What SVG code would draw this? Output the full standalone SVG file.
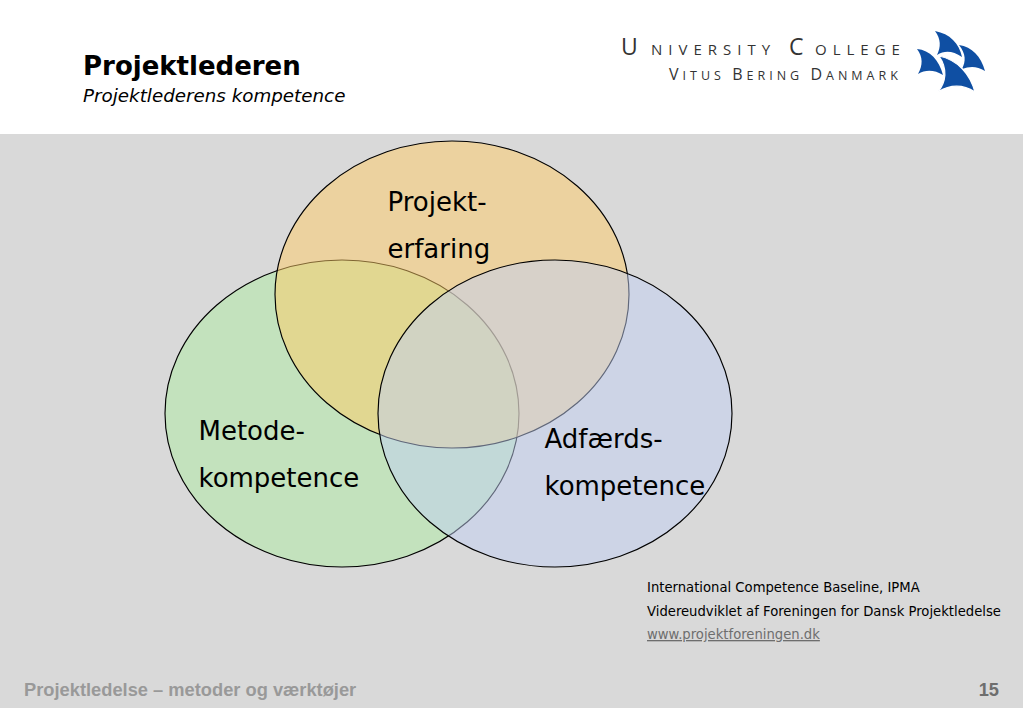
<svg xmlns="http://www.w3.org/2000/svg" width="1023" height="708" viewBox="0 0 1023 708">
<style>
.d{font-family:"DejaVu Sans",Verdana,sans-serif;fill:#000}
.big{font-size:26px}
.small{font-size:13.2px}
.foot{font-family:"Liberation Sans",Arial,sans-serif;font-weight:bold;font-size:18.3px;fill:#999}
.logo{font-family:"Open Sans","Liberation Sans",sans-serif;font-weight:400;fill:#333}
.v{stroke:#000;stroke-width:1.15;fill-opacity:.5}
.sail{fill:#0f4fa3}
</style>
<rect width="1023" height="708" fill="#d9d9d9"/>
<rect id="header" width="1023" height="134" fill="#fff"/>
<text class="d" x="83" y="75" font-size="26" font-weight="bold">Projektlederen</text>
<text class="d" x="83" y="102" font-size="18.3" font-style="italic">Projektlederens kompetence</text>
<g id="logo">
<text class="logo" x="621" y="55" font-size="15" letter-spacing="6"><tspan font-size="23">U</tspan><tspan x="651">NIVERSITY</tspan><tspan x="789" font-size="23">C</tspan><tspan x="815">OLLEGE</tspan></text>
<text class="logo" x="669" y="80" font-size="12.5" letter-spacing="4"><tspan font-size="16">V</tspan>ITUS <tspan font-size="16">B</tspan>ERING <tspan font-size="16">D</tspan>ANMARK</text>
<path class="sail" d="M959 45C972 47 981 56 985 71C977 66 970 66 962 69C966 61 966 54 959 45Z"/>
<path class="sail" d="M917 49C930 50 939 60 943 75C935 70 926 69 918 74C923 65 923 57 917 49Z"/>
<path class="sail" d="M935 31C950 34 959 43 962 57C953 51 945 50 937 55C941 47 941 39 935 31Z"/>
<path class="sail" d="M939 56C958 60 970 74 975 92C964 85 951 84 938 92C946 82 948 69 939 56Z" stroke="#fff" stroke-width="1.2"/>
</g>
<g id="venn">
<g id="metode"><ellipse class="v" cx="342" cy="413.5" rx="177" ry="153.5" fill="#aeeca1"/></g>
<g id="erfaring"><ellipse class="v" cx="452" cy="294.5" rx="177" ry="153.5" fill="#ffcc66"/></g>
<g id="adfaerd"><ellipse class="v" cx="555" cy="413.5" rx="177" ry="153.5" fill="#c1cff3"/></g>
</g>
<text class="d big" x="387.5" y="211">Projekt-</text>
<text class="d big" x="387.5" y="258">erfaring</text>
<text class="d big" x="198.5" y="440">Metode-</text>
<text class="d big" x="198.5" y="487">kompetence</text>
<text class="d big" x="544.5" y="448">Adfærds-</text>
<text class="d big" x="544.5" y="495">kompetence</text>
<text class="d small" x="647" y="592">International Competence Baseline, IPMA</text>
<text class="d small" x="647" y="616">Videreudviklet af Foreningen for Dansk Projektledelse</text>
<text class="d small" x="647" y="639" style="fill:#6e6e6e" text-decoration="underline">www.projektforeningen.dk</text>
<text class="foot" x="24" y="696">Projektledelse – metoder og værktøjer</text>
<text class="foot" x="999" y="696" text-anchor="end" style="fill:#6e6e6e">15</text>
</svg>
